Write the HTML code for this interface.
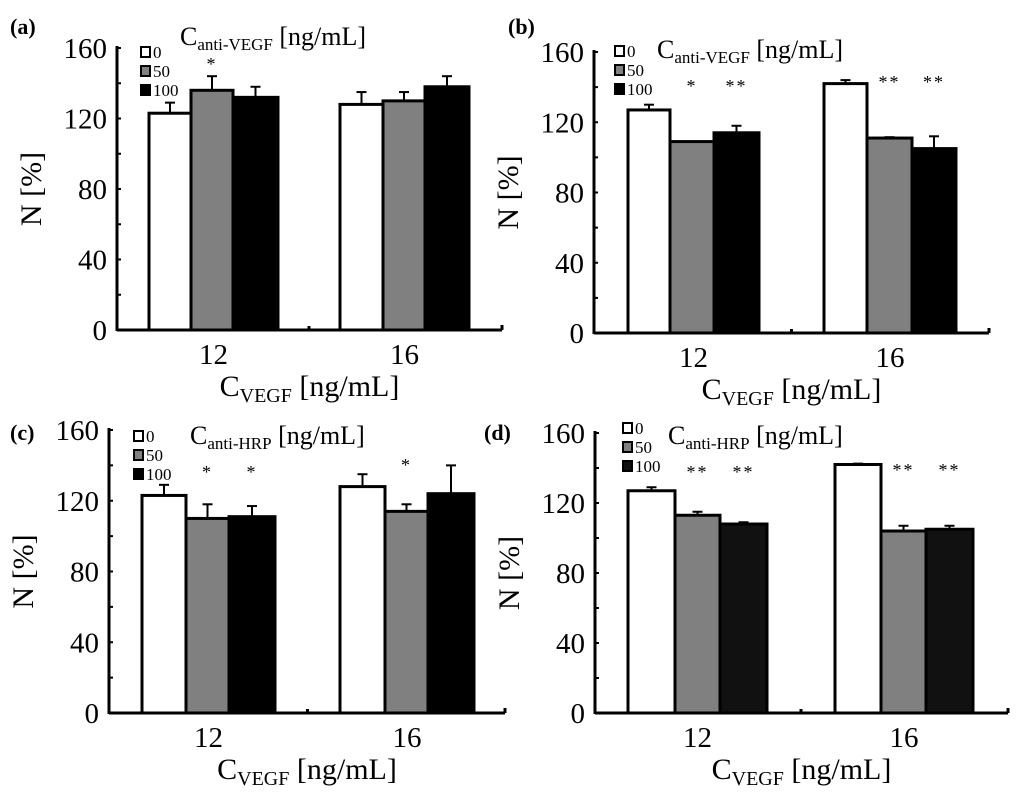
<!DOCTYPE html>
<html><head><meta charset="utf-8"><style>
body{margin:0;background:#fff}
svg{display:block;font-family:"Liberation Serif",serif}
</style></head><body>
<svg id="fig" width="1024" height="796" viewBox="0 0 1024 796"></svg>
<script>
const categories = ["12","16"];
const yTicks = [0,40,80,120,160];
const seriesLabels = ["0","50","100"];
const aVals = [[123,136,132],[128,130,138]];
const aErr = [[6,8,6],[7,5,6]];
const aStars = [["","*",""],["","",""]];
const bVals = [[127,109,114],[142,111,105]];
const bErr = [[3,0,4],[2,0.5,7]];
const bStars = [["","*","**"],["","**","**"]];
const cVals = [[123,110,111],[128,114,124]];
const cErr = [[6,8,6],[7,4,16]];
const cStars = [["","*","*"],["","*",""]];
const dVals = [[127,113,108],[142,104,105]];
const dErr = [[2,2,1],[0.5,3,2]];
const dStars = [["","**","**"],["","**","**"]];

const NS="http://www.w3.org/2000/svg";
const svg=document.getElementById('fig');
function mk(tag,attrs,parent,text){const e=document.createElementNS(NS,tag);for(const k in attrs)e.setAttribute(k,attrs[k]);if(text!==undefined)e.textContent=text;(parent||svg).appendChild(e);return e;}

const panels=[
 {id:'a',label:'(a)',lx:10,ly:34,ax:117,y0:330,y1:48,xe:502,groups:[[149,191,233,278],[340,383,425,469]],vals:aVals,err:aErr,stars:aStars,starRow:null,sub:'anti-VEGF',tx:180,ty:45,legx:141,legy:47,black:'#000'},
 {id:'b',label:'(b)',lx:508,ly:34,ax:594,y0:333,y1:52,xe:989,groups:[[628,670,714,759],[824,867,912,956]],vals:bVals,err:bErr,stars:bStars,starRow:[92,88],sub:'anti-VEGF',tx:657,ty:58,legx:615,legy:46,black:'#000'},
 {id:'c',label:'(c)',lx:10,ly:440,ax:109,y0:713,y1:430,xe:505,groups:[[142,186,229,275],[340,385,428,474]],vals:cVals,err:cErr,stars:cStars,starRow:[478,471],sub:'anti-HRP',tx:190,ty:444,legx:134,legy:431,black:'#000'},
 {id:'d',label:'(d)',lx:484,ly:440,ax:595,y0:713,y1:433,xe:1008,groups:[[628,675,720,767],[835,881,926,973]],vals:dVals,err:dErr,stars:dStars,starRow:[478,476],sub:'anti-HRP',tx:668,ty:444,legx:623,legy:423,black:'#111'}
];

panels.forEach(p=>{
 const g=mk('g',{});
 
 
 const y=v=>p.y0-(v/160)*(p.y0-p.y1);
 const lab=mk('text',{x:p.lx,y:p.ly,'font-size':22,'font-weight':'bold'},g,p.label);
 
 
 mk('line',{x1:p.ax,y1:p.y1-2,x2:p.ax,y2:p.y0+1,stroke:'#000','stroke-width':3},g);
 mk('line',{x1:p.ax,y1:p.y0,x2:p.xe,y2:p.y0,stroke:'#000','stroke-width':3},g);
 const mid=(p.groups[0][3]+p.groups[1][0])/2;
 mk('line',{x1:mid,y1:p.y0-4,x2:mid,y2:p.y0,stroke:'#000','stroke-width':3},g);
 mk('line',{x1:p.xe,y1:p.y0-5,x2:p.xe,y2:p.y0,stroke:'#000','stroke-width':3},g);
 for(let v=0;v<=160;v+=20){mk('line',{x1:p.ax,y1:y(v),x2:p.ax+4,y2:y(v),stroke:'#000','stroke-width':2},g);}
 yTicks.forEach(t=>{const e=mk('text',{x:p.ax-10,y:y(t)+10,'font-size':29,'text-anchor':'end'},g,String(t));
  });
 const yt=mk('text',{transform:`translate(${p.ax-76},${(p.y0+p.y1)/2}) rotate(-90)`,'font-size':30,'text-anchor':'middle'},g,'N [%]');
 
 const fills=['#fff','#808080',p.black];
 categories.forEach((c,gi)=>{
  const xs=p.groups[gi];
  for(let s=0;s<3;s++){
   const v=p.vals[gi][s],e=p.err[gi][s];
   const cx=(xs[s]+xs[s+1])/2;
   if(e>0.3){
    mk('line',{x1:cx,y1:y(v),x2:cx,y2:y(v+e),stroke:'#000','stroke-width':2},g);
    mk('line',{x1:cx-5,y1:y(v+e),x2:cx+5,y2:y(v+e),stroke:'#000','stroke-width':2},g);
   }
   const r=mk('rect',{x:xs[s],y:y(v),width:xs[s+1]-xs[s],height:p.y0-y(v),fill:fills[s],stroke:'#000','stroke-width':3},g);
   
   
   const st=p.stars[gi][s];
   if(st){const sy=p.starRow?p.starRow[gi]:y(v+e)-6;
    const t=mk('text',{x:cx,y:sy,'font-size':18,'text-anchor':'middle','letter-spacing':2},g,st);
    }
  }
  const tl=mk('text',{x:(xs[0]+xs[3])/2,y:p.y0+34,'font-size':29,'text-anchor':'middle'},g,c);
  
 });
 const xt=mk('text',{x:(p.ax+p.xe)/2,y:p.y0+66,'font-size':30,'text-anchor':'middle'},g);
 
 xt.innerHTML='C<tspan font-size="20" dy="6">VEGF</tspan><tspan dy="-6"> [ng/mL]</tspan>';
 const tt=mk('text',{x:p.tx,y:p.ty,'font-size':26},g);
 
 tt.innerHTML='C<tspan font-size="17" dy="5">'+p.sub+'</tspan><tspan dy="-5"> [ng/mL]</tspan>';
 seriesLabels.forEach((l,i)=>{
  const yy=p.legy+i*19;
  const le=mk('g',{},g);
  
  mk('rect',{x:p.legx,y:yy,width:9,height:10,fill:fills[i],stroke:'#000','stroke-width':2},le);
  mk('text',{x:p.legx+12,y:yy+11,'font-size':17},le,l);
 });
});
</script>
</body></html>
